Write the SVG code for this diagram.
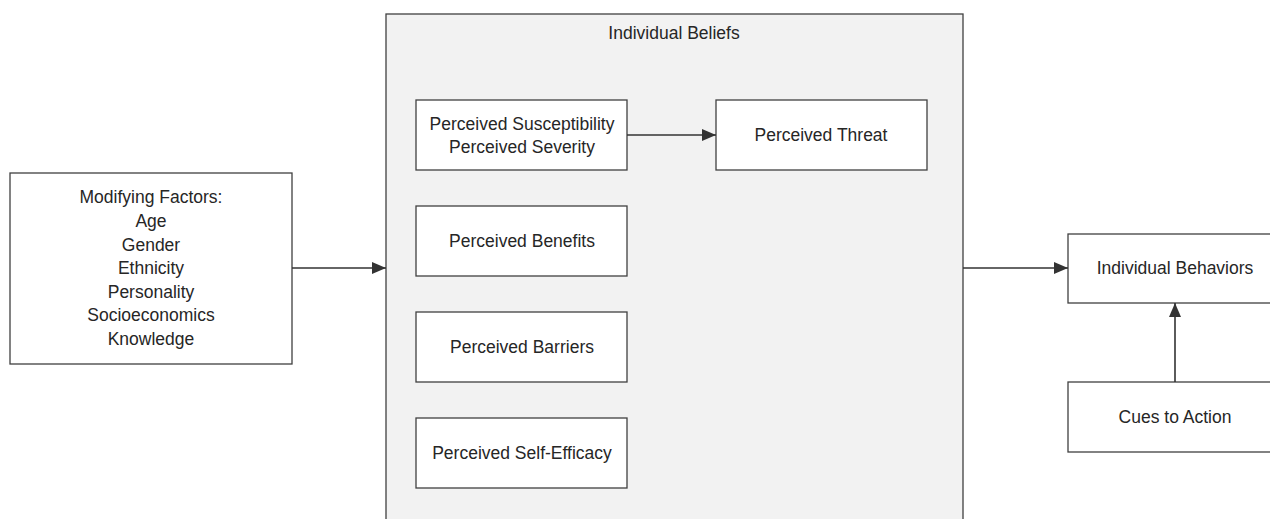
<svg xmlns="http://www.w3.org/2000/svg" width="1270" height="519" viewBox="0 0 1270 519">
<style>
.box{fill:#fff;stroke:#404040;stroke-width:1.3}
.grp{fill:#f2f2f2;stroke:#404040;stroke-width:1.3}
text{font-family:"Liberation Sans",Arial,sans-serif;font-size:17.5px;fill:#262626;text-anchor:middle}
.conn{stroke:#333;stroke-width:1.6;fill:none}
</style>
<defs>
<marker id="arr2" viewBox="0 0 14 12" refX="14" refY="6" markerWidth="14" markerHeight="12" markerUnits="userSpaceOnUse" orient="auto">
<path d="M0,0 L14,6 L0,12 z" fill="#333"/>
</marker>
</defs>
<g id="beliefs">
<rect class="grp" x="386" y="14" width="577" height="520"/>
<text x="674" y="39">Individual Beliefs</text>
</g>
<g id="susceptibility">
<rect class="box" x="416" y="100" width="211" height="70"/>
<text x="522" y="130">Perceived Susceptibility</text>
<text x="522" y="153">Perceived Severity</text>
</g>
<g id="threat">
<rect class="box" x="716" y="100" width="211" height="70"/>
<text x="821" y="141">Perceived Threat</text>
</g>
<g id="benefits">
<rect class="box" x="416" y="206" width="211" height="70"/>
<text x="522" y="247">Perceived Benefits</text>
</g>
<g id="barriers">
<rect class="box" x="416" y="312" width="211" height="70"/>
<text x="522" y="353">Perceived Barriers</text>
</g>
<g id="efficacy">
<rect class="box" x="416" y="418" width="211" height="70"/>
<text x="522" y="459">Perceived Self-Efficacy</text>
</g>
<g id="modifying">
<rect class="box" x="10" y="173" width="282" height="191"/>
<text x="151" y="203">Modifying Factors:</text>
<text x="151" y="227">Age</text>
<text x="151" y="251">Gender</text>
<text x="151" y="274">Ethnicity</text>
<text x="151" y="298">Personality</text>
<text x="151" y="321">Socioeconomics</text>
<text x="151" y="345">Knowledge</text>
</g>
<g id="behaviors">
<rect class="box" x="1068" y="234" width="212" height="69"/>
<text x="1175" y="274">Individual Behaviors</text>
</g>
<g id="cues">
<rect class="box" x="1068" y="382" width="212" height="70"/>
<text x="1175" y="423">Cues to Action</text>
</g>
<g id="connectors">
<line class="conn" x1="292" y1="268" x2="386" y2="268" marker-end="url(#arr2)"/>
<line class="conn" x1="963" y1="268" x2="1068" y2="268" marker-end="url(#arr2)"/>
<line class="conn" x1="627" y1="135" x2="716" y2="135" marker-end="url(#arr2)"/>
<line class="conn" x1="1175" y1="382" x2="1175" y2="303" marker-end="url(#arr2)"/>
</g>
</svg>
